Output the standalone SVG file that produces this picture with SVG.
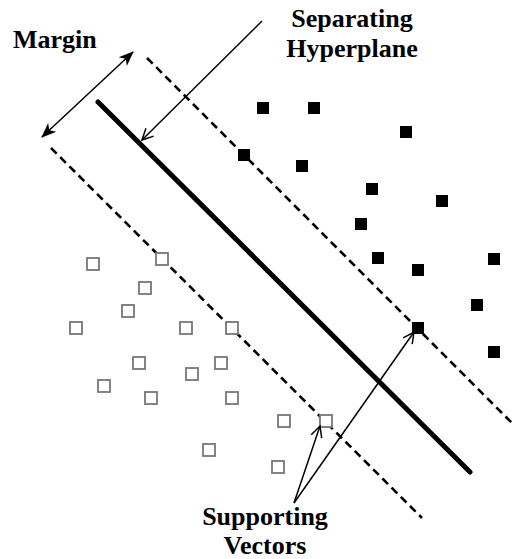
<svg xmlns="http://www.w3.org/2000/svg" width="513" height="559" viewBox="0 0 513 559">
<style>
.lbl{font-family:"Liberation Serif","Times New Roman",serif;font-weight:bold;font-size:26px;fill:#000}
.pos{fill:#000}
.neg{fill:#fff;stroke:#777;stroke-width:1.8}
.dash{stroke:#000;stroke-width:2.6;stroke-dasharray:8 5;fill:none}
.thin{stroke:#000;stroke-width:1.5;fill:none}
</style>
<defs>
<marker id="solid" markerUnits="userSpaceOnUse" markerWidth="16" markerHeight="14" refX="14" refY="7" orient="auto-start-reverse" viewBox="0 0 16 14">
<path d="M0,1 L15,7 L0,13 L4,7 Z" fill="#000"/>
</marker>
<marker id="open" markerUnits="userSpaceOnUse" markerWidth="14" markerHeight="14" refX="12" refY="7" orient="auto" viewBox="0 0 14 14">
<path d="M1,1.5 L12,7 L1,12.5" fill="none" stroke="#000" stroke-width="1.5"/>
</marker>
</defs>
<rect width="513" height="559" fill="#fff"/>
<g id="hyperplane">
<line x1="98" y1="102" x2="470" y2="472" stroke="#000" stroke-width="5" stroke-linecap="round"/>
</g>
<g id="margins">
<line class="dash" x1="147" y1="58" x2="513" y2="424"/>
<line class="dash" x1="51" y1="148" x2="422" y2="518"/>
</g>
<g id="positive">
<rect class="pos" x="257" y="102" width="12" height="12"/>
<rect class="pos" x="308" y="102" width="12" height="12"/>
<rect class="pos" x="400" y="126" width="12" height="12"/>
<rect class="pos" x="238" y="149" width="12" height="12"/>
<rect class="pos" x="296" y="160" width="12" height="12"/>
<rect class="pos" x="366" y="183" width="12" height="12"/>
<rect class="pos" x="436" y="195" width="12" height="12"/>
<rect class="pos" x="355" y="218" width="12" height="12"/>
<rect class="pos" x="372" y="252" width="12" height="12"/>
<rect class="pos" x="412" y="264" width="12" height="12"/>
<rect class="pos" x="488" y="253" width="12" height="12"/>
<rect class="pos" x="471" y="299" width="12" height="12"/>
<rect class="pos" x="412" y="322" width="12" height="12"/>
<rect class="pos" x="488" y="346" width="12" height="12"/>
</g>
<g id="negative">
<rect class="neg" x="87" y="258" width="12" height="12"/>
<rect class="neg" x="156" y="253" width="12" height="12"/>
<rect class="neg" x="139" y="282" width="12" height="12"/>
<rect class="neg" x="122" y="305" width="12" height="12"/>
<rect class="neg" x="70" y="322" width="12" height="12"/>
<rect class="neg" x="180" y="322" width="12" height="12"/>
<rect class="neg" x="226" y="322" width="12" height="12"/>
<rect class="neg" x="133" y="357" width="12" height="12"/>
<rect class="neg" x="215" y="357" width="12" height="12"/>
<rect class="neg" x="186" y="368" width="12" height="12"/>
<rect class="neg" x="98" y="380" width="12" height="12"/>
<rect class="neg" x="145" y="392" width="12" height="12"/>
<rect class="neg" x="226" y="392" width="12" height="12"/>
<rect class="neg" x="203" y="444" width="12" height="12"/>
<rect class="neg" x="278" y="415" width="12" height="12"/>
<rect class="neg" x="320" y="415" width="12" height="12"/>
<rect class="neg" x="272" y="461" width="12" height="12"/>
</g>
<g id="connectors">
<line class="thin" x1="42" y1="137" x2="133" y2="52" stroke-width="1.8" marker-start="url(#solid)" marker-end="url(#solid)"/>
<line class="thin" x1="262" y1="21" x2="142" y2="140" marker-end="url(#open)"/>
<line class="thin" x1="294" y1="503" x2="320" y2="426" marker-end="url(#open)"/>
<line class="thin" x1="294" y1="503" x2="414" y2="332" marker-end="url(#open)"/>
</g>
<g id="labels">
<text class="lbl" x="13" y="48">Margin</text>
<text class="lbl" x="352" y="27" text-anchor="middle">Separating</text>
<text class="lbl" x="352" y="57" text-anchor="middle">Hyperplane</text>
<text class="lbl" x="265" y="525" text-anchor="middle">Supporting</text>
<text class="lbl" x="265" y="554" text-anchor="middle">Vectors</text>
</g>
</svg>
